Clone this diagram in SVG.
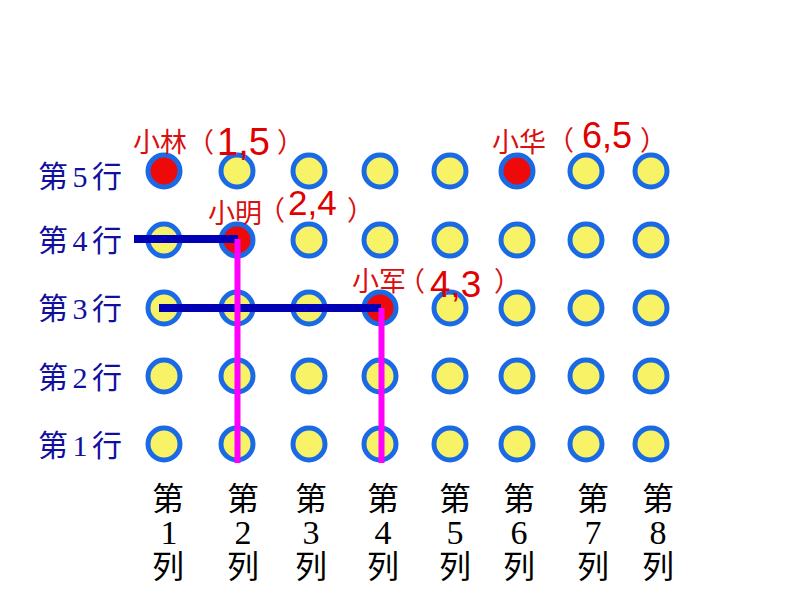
<svg xmlns="http://www.w3.org/2000/svg" width="794" height="596" viewBox="0 0 794 596">
<style>
.dot{fill:#f8f266;stroke:#1a6ae6;stroke-width:5}
.hit{fill:#ee0a0a;stroke:#1a6ae6;stroke-width:5}
.rl{font-family:"Liberation Serif","Noto Sans CJK SC",serif;font-size:30px;fill:#10109e}
.cl{font-family:"Liberation Serif","Noto Sans CJK SC",serif;font-size:32px;fill:#000;text-anchor:middle}
.cd{font-family:"Liberation Serif",serif;font-size:34px;fill:#000;text-anchor:middle}
.nm{font-family:"Noto Sans CJK SC",sans-serif;font-size:27px;fill:#d81010}
.co{font-family:"Liberation Sans",Arial,sans-serif;fill:#e00000}
.h{stroke:#0000b4;stroke-width:8}
.v{stroke:#ff00ff;stroke-width:6}
</style>
<rect width="794" height="596" fill="#fff"/>
<g id="rowLabels">
<text class="rl" x="38" y="187" textLength="84" lengthAdjust="spacing">第5行</text>
<text class="rl" x="38" y="251" textLength="84" lengthAdjust="spacing">第4行</text>
<text class="rl" x="38" y="319" textLength="84" lengthAdjust="spacing">第3行</text>
<text class="rl" x="38" y="388" textLength="84" lengthAdjust="spacing">第2行</text>
<text class="rl" x="38" y="456" textLength="84" lengthAdjust="spacing">第1行</text>
</g>
<g id="colLabels">
<text class="cl" x="168" y="510">第</text><text class="cd" x="169" y="544">1</text><text class="cl" x="168" y="578">列</text>
<text class="cl" x="243" y="510">第</text><text class="cd" x="243" y="544">2</text><text class="cl" x="243" y="578">列</text>
<text class="cl" x="311" y="510">第</text><text class="cd" x="311" y="544">3</text><text class="cl" x="311" y="578">列</text>
<text class="cl" x="383" y="510">第</text><text class="cd" x="383" y="544">4</text><text class="cl" x="383" y="578">列</text>
<text class="cl" x="455" y="510">第</text><text class="cd" x="455" y="544">5</text><text class="cl" x="455" y="578">列</text>
<text class="cl" x="519" y="510">第</text><text class="cd" x="519" y="544">6</text><text class="cl" x="519" y="578">列</text>
<text class="cl" x="593" y="510">第</text><text class="cd" x="593" y="544">7</text><text class="cl" x="593" y="578">列</text>
<text class="cl" x="658" y="510">第</text><text class="cd" x="658" y="544">8</text><text class="cl" x="658" y="578">列</text>
</g>
<g id="grid">
<g id="r5">
<circle id="p1-5" class="hit" cx="164" cy="171" r="16"/>
<circle id="p2-5" class="dot" cx="237" cy="171" r="16"/>
<circle id="p3-5" class="dot" cx="309" cy="171" r="16"/>
<circle id="p4-5" class="dot" cx="380" cy="171" r="16"/>
<circle id="p5-5" class="dot" cx="450" cy="171" r="16"/>
<circle id="p6-5" class="hit" cx="517" cy="171" r="16"/>
<circle id="p7-5" class="dot" cx="586" cy="171" r="16"/>
<circle id="p8-5" class="dot" cx="651" cy="171" r="16"/>
</g>
<g id="r4">
<circle id="p1-4" class="dot" cx="164" cy="240" r="16"/>
<circle id="p2-4" class="hit" cx="237" cy="240" r="16"/>
<circle id="p3-4" class="dot" cx="309" cy="240" r="16"/>
<circle id="p4-4" class="dot" cx="380" cy="240" r="16"/>
<circle id="p5-4" class="dot" cx="450" cy="240" r="16"/>
<circle id="p6-4" class="dot" cx="517" cy="240" r="16"/>
<circle id="p7-4" class="dot" cx="586" cy="240" r="16"/>
<circle id="p8-4" class="dot" cx="651" cy="240" r="16"/>
</g>
<g id="r3">
<circle id="p1-3" class="dot" cx="164" cy="308" r="16"/>
<circle id="p2-3" class="dot" cx="237" cy="308" r="16"/>
<circle id="p3-3" class="dot" cx="309" cy="308" r="16"/>
<circle id="p4-3" class="hit" cx="380" cy="308" r="16"/>
<circle id="p5-3" class="dot" cx="450" cy="308" r="16"/>
<circle id="p6-3" class="dot" cx="517" cy="308" r="16"/>
<circle id="p7-3" class="dot" cx="586" cy="308" r="16"/>
<circle id="p8-3" class="dot" cx="651" cy="308" r="16"/>
</g>
<g id="r2">
<circle id="p1-2" class="dot" cx="164" cy="376" r="16"/>
<circle id="p2-2" class="dot" cx="237" cy="376" r="16"/>
<circle id="p3-2" class="dot" cx="309" cy="376" r="16"/>
<circle id="p4-2" class="dot" cx="380" cy="376" r="16"/>
<circle id="p5-2" class="dot" cx="450" cy="376" r="16"/>
<circle id="p6-2" class="dot" cx="517" cy="376" r="16"/>
<circle id="p7-2" class="dot" cx="586" cy="376" r="16"/>
<circle id="p8-2" class="dot" cx="651" cy="376" r="16"/>
</g>
<g id="r1">
<circle id="p1-1" class="dot" cx="164" cy="444" r="16"/>
<circle id="p2-1" class="dot" cx="237" cy="444" r="16"/>
<circle id="p3-1" class="dot" cx="309" cy="444" r="16"/>
<circle id="p4-1" class="dot" cx="380" cy="444" r="16"/>
<circle id="p5-1" class="dot" cx="450" cy="444" r="16"/>
<circle id="p6-1" class="dot" cx="517" cy="444" r="16"/>
<circle id="p7-1" class="dot" cx="586" cy="444" r="16"/>
<circle id="p8-1" class="dot" cx="651" cy="444" r="16"/>
</g>
</g>
<g id="connectors">
<line class="h" x1="134" y1="239" x2="238" y2="239"/>
<line class="h" x1="159" y1="308" x2="381" y2="308"/>
<line class="v" x1="237.5" y1="239" x2="237.5" y2="463"/>
<line class="v" x1="381.5" y1="308" x2="381.5" y2="463"/>
</g>
<g id="lbl-xiaolin">
<text class="nm" x="133" y="152">小林</text>
<text class="nm" x="187" y="152">（</text>
<text class="co" x="217" y="155" font-size="38">1,5</text>
<text class="nm" x="277" y="152">）</text>
</g>
<g id="lbl-xiaohua">
<text class="nm" x="492" y="152">小华</text>
<text class="nm" x="547" y="150">（</text>
<text class="co" x="582" y="148" font-size="36">6,5</text>
<text class="nm" x="640" y="150">）</text>
</g>
<g id="lbl-xiaoming">
<text class="nm" x="208" y="223">小明</text>
<text class="nm" x="258" y="220">（</text>
<text class="co" x="288" y="215" font-size="35">2,4</text>
<text class="nm" x="347" y="220">）</text>
</g>
<g id="lbl-xiaojun">
<text class="nm" x="352" y="291">小军</text>
<text class="nm" x="398" y="291">（</text>
<text class="co" x="430" y="297" font-size="37">4,3</text>
<text class="nm" x="494" y="291">）</text>
</g>
</svg>
